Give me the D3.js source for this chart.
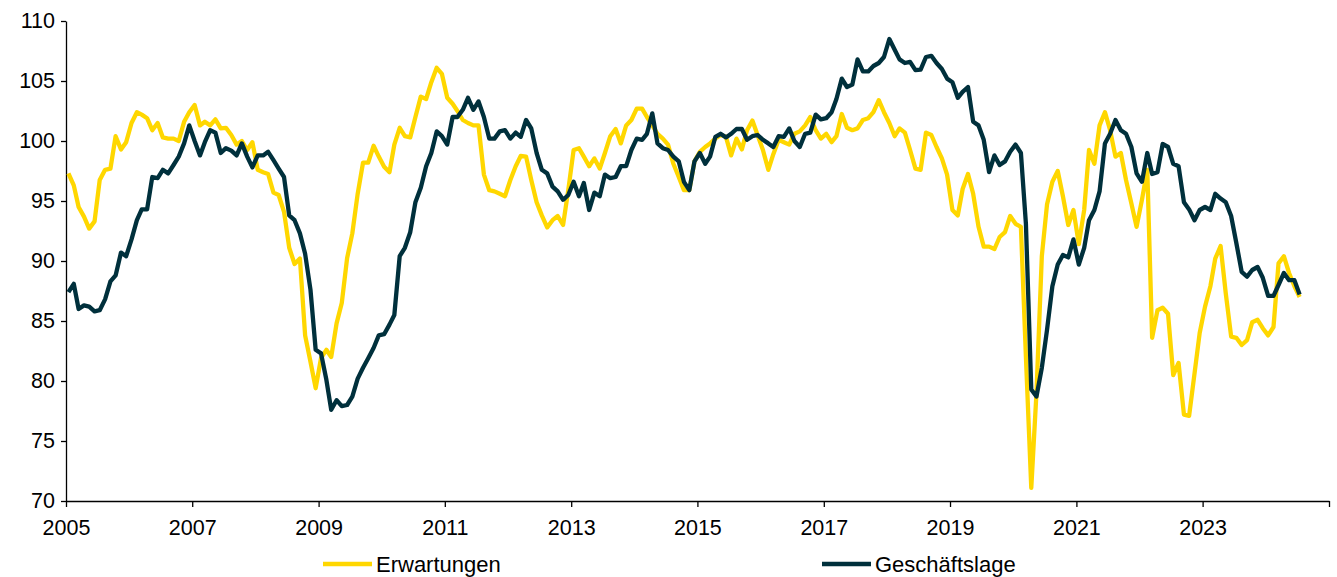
<!DOCTYPE html>
<meta charset="utf-8">
<script src="https://d3js.org/d3.v7.min.js"></script>
<style>
  body { margin: 0; background: #fff; }
  text { font-family: "Liberation Sans", Arial, sans-serif; }
</style>
<body>
<div id="chart"></div>
<script>
// monthly values, Jan 2005 - Jul 2024
var erwartungen = [
  97.3, 96.3, 94.5, 93.7, 92.7, 93.3, 96.75, 97.6, 97.7, 100.4, 99.3, 99.9,        // 2005
  101.5, 102.4, 102.2, 101.9, 100.9, 101.5, 100.3, 100.2, 100.2, 100.0, 101.6, 102.4, // 2006
  103.0, 101.3, 101.6, 101.3, 101.8, 101.05, 101.1, 100.5, 99.7, 100.0, 99.25, 99.9,  // 2007
  97.6, 97.4, 97.25, 95.7, 95.5, 94.1, 91.1, 89.75, 90.2, 83.8, 81.6, 79.4,        // 2008
  81.9, 82.6, 82.0, 84.8, 86.5, 90.25, 92.3, 95.6, 98.2, 98.2, 99.6, 98.7,         // 2009
  97.85, 97.4, 99.7, 101.1, 100.4, 100.3, 102.0, 103.7, 103.5, 104.9, 106.1, 105.6, // 2010
  103.6, 103.1, 102.5, 101.75, 101.5, 101.3, 101.3, 97.2, 95.9, 95.8, 95.6, 95.4,   // 2011
  96.75, 97.9, 98.75, 98.7, 96.75, 94.9, 93.8, 92.8, 93.4, 93.75, 93.0, 95.9,      // 2012
  99.25, 99.4, 98.7, 97.9, 98.55, 97.7, 99.0, 100.4, 101.0, 99.8, 101.3, 101.75,    // 2013
  102.7, 102.7, 102.0, 101.3, 100.6, 100.2, 99.7, 98.1, 97.0, 95.9, 95.9, 98.3,     // 2014
  99.1, 99.5, 99.8, 100.2, 100.5, 100.35, 98.8, 100.2, 99.3, 100.9, 101.7, 100.5,   // 2015
  99.25, 97.6, 98.9, 100.1, 99.9, 99.7, 100.6, 100.8, 101.3, 102.0, 100.9, 100.2,   // 2016
  100.6, 99.9, 100.4, 102.25, 101.1, 100.9, 101.05, 101.75, 101.9, 102.4, 103.4, 102.4, // 2017
  101.5, 100.4, 101.05, 100.7, 99.25, 97.7, 97.6, 100.7, 100.5, 99.5, 98.55, 97.2,  // 2018
  94.25, 93.8, 96.0, 97.25, 95.6, 92.85, 91.2, 91.2, 91.0, 92.0, 92.4, 93.75,       // 2019
  93.1, 92.85, 82.0, 71.1, 79.0, 90.4, 94.7, 96.6, 97.5, 95.4, 93.0, 94.25,         // 2020
  91.4, 94.25, 99.25, 98.1, 101.3, 102.4, 100.9, 98.7, 99.0, 96.75, 94.8, 92.85,    // 2021
  95.1, 97.6, 83.6, 85.9, 86.1, 85.6, 80.5, 81.5, 77.2, 77.1, 80.6, 84.0,           // 2022
  86.2, 87.9, 90.2, 91.25, 87.3, 83.7, 83.6, 83.0, 83.4, 84.9, 85.1, 84.4,          // 2023
  83.8, 84.5, 89.8, 90.4, 89.0, 87.9, 87.0                                         // 2024
];

var geschaeftslage = [
  87.4, 88.1, 86.0, 86.3, 86.2, 85.8, 85.9, 86.8, 88.3, 88.8, 90.7, 90.4,          // 2005
  91.8, 93.4, 94.3, 94.3, 97.0, 96.9, 97.6, 97.3, 98.0, 98.7, 99.8, 101.3,         // 2006
  100.0, 98.8, 99.9, 100.9, 100.7, 99.0, 99.4, 99.2, 98.8, 99.8, 98.7, 97.8,       // 2007
  98.8, 98.8, 99.1, 98.4, 97.7, 97.0, 93.8, 93.4, 92.3, 90.6, 87.6, 82.6,          // 2008
  82.3, 80.1, 77.6, 78.4, 77.9, 78.0, 78.7, 80.2, 81.1, 81.9, 82.75, 83.8,         // 2009
  83.9, 84.7, 85.5, 90.4, 91.1, 92.4, 94.9, 96.1, 97.9, 99.0, 100.8, 100.4,        // 2010
  99.7, 102.0, 102.0, 102.6, 103.6, 102.6, 103.3, 102.0, 100.2, 100.2, 100.8, 100.9, // 2011
  100.2, 100.7, 100.35, 101.75, 101.05, 99.0, 97.6, 97.3, 96.2, 95.8, 95.1, 95.5,   // 2012
  96.6, 95.4, 96.5, 94.25, 95.7, 95.4, 97.2, 96.9, 97.0, 97.9, 97.9, 99.25,         // 2013
  100.2, 100.1, 100.6, 102.3, 99.8, 99.4, 99.25, 98.7, 98.3, 96.6, 95.9, 98.3,      // 2014
  99.0, 98.1, 98.7, 100.35, 100.6, 100.3, 100.6, 101.0, 101.0, 100.1, 100.4, 100.5, // 2015
  100.1, 99.8, 99.5, 100.4, 100.35, 101.05, 100.0, 99.5, 100.6, 100.7, 102.2, 101.8, // 2016
  101.9, 102.4, 103.5, 105.2, 104.5, 104.7, 106.8, 105.8, 105.8, 106.25, 106.5, 107.0, // 2017
  108.5, 107.6, 106.8, 106.5, 106.6, 105.9, 105.95, 107.0, 107.1, 106.5, 106.0, 105.2, // 2018
  104.9, 103.6, 104.1, 104.5, 101.6, 101.3, 100.1, 97.4, 98.8, 98.0, 98.3, 99.1,    // 2019
  99.7, 99.0, 93.1, 79.3, 78.7, 81.1, 84.25, 87.9, 89.7, 90.5, 90.3, 91.8,          // 2020
  89.7, 91.1, 93.4, 94.25, 95.8, 99.8, 100.6, 101.75, 100.9, 100.6, 99.5, 97.3,     // 2021
  96.6, 99.0, 97.25, 97.4, 99.75, 99.5, 98.1, 97.9, 94.9, 94.3, 93.4, 94.25,        // 2022
  94.5, 94.25, 95.6, 95.2, 94.9, 93.75, 91.5, 89.1, 88.7, 89.25, 89.5, 88.6,        // 2023
  87.1, 87.1, 88.0, 89.0, 88.4, 88.4, 87.2                                         // 2024
];

var seriesNames = ["Erwartungen", "Geschäftslage"];
var seriesColors = ["#FFD700", "#00303C"];
var xTickYears = [2005, 2007, 2009, 2011, 2013, 2015, 2017, 2019, 2021, 2023, 2025];
var yTicks = [70, 75, 80, 85, 90, 95, 100, 105, 110];

var W = 1337, H = 577;
var margin = {top: 21, right: 8, bottom: 76, left: 66};

var svg = d3.select("#chart")
  .append("svg")
  .attr("width", W)
  .attr("height", H);

var x = d3.scaleTime()
  .domain([new Date(2005, 0, 1), new Date(2025, 0, 1)])
  .range([margin.left, W - margin.right]);

var y = d3.scaleLinear()
  .domain([70, 110])
  .range([H - margin.bottom, margin.top]);

// survey months, dated mid-month
function toPoints(arr) {
  return arr.map(function(v, i) { return {date: new Date(2005, i, 15), value: v}; });
}

var line = d3.line()
  .x(function(d) { return x(d.date); })
  .y(function(d) { return y(d.value); });

// axes
var yAxis = svg.append("g")
  .attr("transform", "translate(" + margin.left + ",0)")
  .call(d3.axisLeft(y).tickValues(yTicks).tickSize(5).tickSizeOuter(0).tickPadding(6));

var xAxis = svg.append("g")
  .attr("transform", "translate(0," + (H - margin.bottom) + ")")
  .call(d3.axisBottom(x)
    .tickValues(xTickYears.map(function(yr) { return new Date(yr, 0, 1); }))
    .tickFormat(function(d) { return d.getFullYear() < 2025 ? d.getFullYear() : ""; })
    .tickSize(6).tickSizeOuter(0).tickPadding(13));

svg.selectAll(".tick text")
  .style("font-size", "21.5px")
  .style("fill", "#000");
svg.selectAll(".domain, .tick line")
  .attr("stroke", "#000")
  .attr("stroke-width", 1.3);

// lines
var allSeries = [erwartungen, geschaeftslage];
allSeries.forEach(function(s, i) {
  svg.append("path")
    .datum(toPoints(s))
    .attr("fill", "none")
    .attr("stroke", seriesColors[i])
    .attr("stroke-width", 4.3)
    .attr("stroke-linejoin", "round")
    .attr("d", line);
});

// legend
var legendX = [323, 822];
var legend = svg.append("g");
seriesNames.forEach(function(name, i) {
  legend.append("line")
    .attr("x1", legendX[i]).attr("x2", legendX[i] + 49)
    .attr("y1", 564).attr("y2", 564)
    .attr("stroke", seriesColors[i])
    .attr("stroke-width", 4.3);
  legend.append("text")
    .attr("x", legendX[i] + 53)
    .attr("y", 572)
    .style("font-size", "22px")
    .text(name);
});
</script>
</body>
